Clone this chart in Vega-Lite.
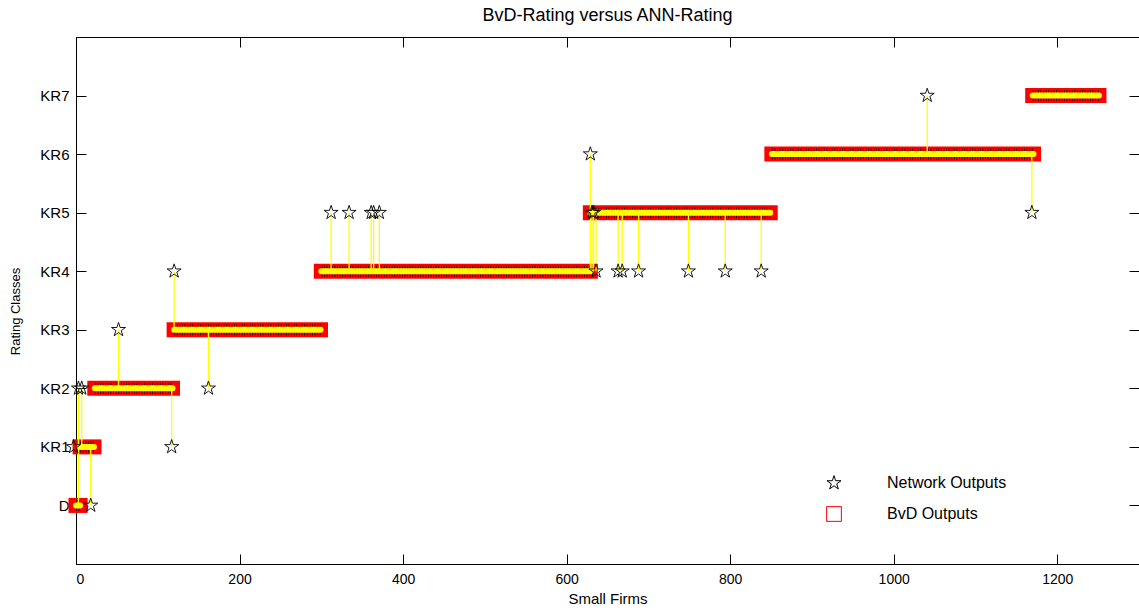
{
  "$schema": "https://vega.github.io/schema/vega-lite/v6.json",
  "width": 1063,
  "height": 527,
  "autosize": "none",
  "padding": {"left": 76, "top": 37, "right": 0, "bottom": 46},
  "background": "white",
  "title": {"text": "BvD-Rating versus ANN-Rating", "font": "Liberation Sans", "fontSize": 18, "fontWeight": "normal", "color": "#000000", "offset": 12, "anchor": "middle"},
  "datasets": {
    "segments": [
      {"start": 0, "end": 5, "rating": 0},
      {"start": 5, "end": 22, "rating": 1},
      {"start": 23, "end": 118, "rating": 2},
      {"start": 120, "end": 299, "rating": 3},
      {"start": 300, "end": 629, "rating": 4},
      {"start": 629, "end": 849, "rating": 5},
      {"start": 851, "end": 1171, "rating": 6},
      {"start": 1170, "end": 1251, "rating": 7}
    ],
    "network": [
      {"firm": -3, "bvd": 1, "ann": 1},
      {"firm": 3, "bvd": 0, "ann": 2},
      {"firm": 7, "bvd": 1, "ann": 2},
      {"firm": 18, "bvd": 1, "ann": 0},
      {"firm": 52, "bvd": 2, "ann": 3},
      {"firm": 117, "bvd": 2, "ann": 1},
      {"firm": 120, "bvd": 3, "ann": 4},
      {"firm": 162, "bvd": 3, "ann": 2},
      {"firm": 312, "bvd": 4, "ann": 5},
      {"firm": 334, "bvd": 4, "ann": 5},
      {"firm": 361, "bvd": 4, "ann": 5},
      {"firm": 364, "bvd": 4, "ann": 5},
      {"firm": 371, "bvd": 4, "ann": 5},
      {"firm": 629, "bvd": 4, "ann": 6},
      {"firm": 631, "bvd": 4, "ann": 5},
      {"firm": 633, "bvd": 4, "ann": 5},
      {"firm": 636, "bvd": 5, "ann": 4},
      {"firm": 663, "bvd": 5, "ann": 4},
      {"firm": 668, "bvd": 5, "ann": 4},
      {"firm": 688, "bvd": 5, "ann": 4},
      {"firm": 749, "bvd": 5, "ann": 4},
      {"firm": 794, "bvd": 5, "ann": 4},
      {"firm": 838, "bvd": 5, "ann": 4},
      {"firm": 1041, "bvd": 6, "ann": 7},
      {"firm": 1169, "bvd": 6, "ann": 5}
    ]
  },
  "layer": [
    {
      "data": {"name": "segments"},
      "mark": {"type": "rule", "strokeWidth": 15, "strokeCap": "square", "color": "#ff0000"},
      "encoding": {
        "x": {"field": "start", "type": "quantitative",
          "scale": {"domain": [0, 1300], "nice": false, "zero": false},
          "axis": {"orient": "bottom", "values": [0, 200, 400, 600, 800, 1000, 1200], "format": "d", "title": "Small Firms", "titleFontSize": 15, "titleFontWeight": "normal", "titleColor": "#000000", "titleBaseline": "middle", "titleY": 34, "labelFontSize": 14, "labelColor": "#000000", "labelPadding": 18, "tickSize": -10, "tickColor": "#000000", "domainColor": "#000000", "grid": false}},
        "x2": {"field": "end"},
        "y": {"field": "rating", "type": "quantitative",
          "scale": {"domain": [-1, 8], "nice": false, "zero": false},
          "axis": {"orient": "left", "values": [0, 1, 2, 3, 4, 5, 6, 7], "labelExpr": "datum.value == 0 ? 'D' : 'KR' + datum.value", "title": "Rating Classes", "titleFontSize": 13, "titleFontWeight": "normal", "titleColor": "#000000", "titleBaseline": "middle", "titleX": -61, "titleY": 274, "titleAngle": -90, "labelFontSize": 15, "labelColor": "#000000", "labelPadding": 17, "tickSize": -10, "tickColor": "#000000", "domainColor": "#000000", "grid": false}}
      }
    },
    {
      "data": {"name": "segments"},
      "mark": {"type": "rule", "strokeWidth": 11, "strokeCap": "butt", "color": "#000000", "opacity": 0.75, "strokeDash": [1, 1.6]},
      "encoding": {
        "x": {"field": "start", "type": "quantitative",
          "axis": {"orient": "top", "values": [0, 200, 400, 600, 800, 1000, 1200], "labels": false, "domain": false, "title": null, "tickSize": -10, "tickColor": "#000000", "grid": false}},
        "x2": {"field": "end"},
        "y": {"field": "rating", "type": "quantitative",
          "axis": {"orient": "right", "values": [0, 1, 2, 3, 4, 5, 6, 7], "labels": false, "domain": false, "title": null, "tickSize": -10, "tickColor": "#000000", "grid": false}}
      }
    },
    {
      "data": {"name": "segments"},
      "mark": {"type": "rule", "strokeWidth": 6, "strokeCap": "round", "color": "#ffff00"},
      "encoding": {
        "x": {"field": "start", "type": "quantitative", "axis": null},
        "x2": {"field": "end"},
        "y": {"field": "rating", "type": "quantitative", "axis": null}
      }
    },
    {
      "data": {"name": "network"},
      "mark": {"type": "rule", "strokeWidth": 1.3, "color": "#ffff00"},
      "encoding": {
        "x": {"field": "firm", "type": "quantitative", "axis": null},
        "y": {"field": "bvd", "type": "quantitative", "axis": null},
        "y2": {"field": "ann"}
      }
    },
    {
      "data": {"name": "network"},
      "mark": {"type": "point", "filled": false, "strokeWidth": 0.9, "size": 217, "opacity": 1},
      "encoding": {
        "x": {"field": "firm", "type": "quantitative", "axis": null},
        "y": {"field": "ann", "type": "quantitative", "axis": null},
        "shape": {"datum": "Network Outputs",
          "scale": {"domain": ["Network Outputs", "BvD Outputs"], "range": ["M0,-1L0.225,-0.309L0.951,-0.309L0.363,0.118L0.588,0.809L0,0.382L-0.588,0.809L-0.363,0.118L-0.951,-0.309L-0.225,-0.309Z", "square"]},
          "legend": {"orient": "none", "legendX": 750, "legendY": 438, "title": null, "padding": 0, "symbolSize": 217, "symbolStrokeWidth": 1, "symbolFillColor": "transparent", "labelFont": "Liberation Sans", "labelFontSize": 16, "labelColor": "#000000", "labelOffset": 45, "rowPadding": 13}},
        "stroke": {"datum": "Network Outputs",
          "scale": {"domain": ["Network Outputs", "BvD Outputs"], "range": ["#000000", "#ff0000"]},
          "legend": {"orient": "none", "legendX": 750, "legendY": 438, "title": null, "padding": 0, "symbolSize": 217, "symbolStrokeWidth": 1, "symbolFillColor": "transparent", "labelFont": "Liberation Sans", "labelFontSize": 16, "labelColor": "#000000", "labelOffset": 45, "rowPadding": 13}}
      }
    }
  ],
  "resolve": {"axis": {"x": "independent", "y": "independent"}},
  "config": {
    "font": "Liberation Sans",
    "view": {"stroke": "#000000", "strokeWidth": 1},
    "axis": {"labelFont": "Liberation Sans", "titleFont": "Liberation Sans"}
  }
}
